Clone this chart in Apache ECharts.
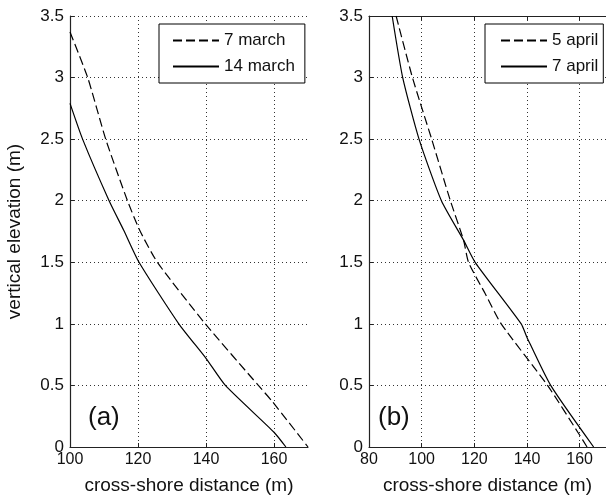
<!DOCTYPE html>
<html>
<head>
<meta charset="utf-8">
<script src="https://cdn.jsdelivr.net/npm/echarts@6/dist/echarts.min.js"></script>
<style>
  html, body { margin: 0; padding: 0; background: #fff; }
  #chart { width: 606px; height: 502px; }
</style>
</head>
<body>
<div id="chart"></div>
<script>
// panel (a): profiles in march
const distMarch7 = [100, 105.2, 110.5, 116.9, 120.5, 125.7, 139.8, 155.4, 159.5, 170];
const elevMarch7 = [3.37, 3.0, 2.5, 2.0, 1.76, 1.5, 1.0, 0.5, 0.37, 0];
const distMarch14 = [100, 103.7, 111.5, 115.8, 120.3, 132.0, 140, 145.7, 160, 163.5];
const elevMarch14 = [2.79, 2.5, 2.0, 1.76, 1.5, 1.0, 0.72, 0.5, 0.12, 0];

// panel (b): profiles in april
const distApril5 = [90.3, 96.5, 103.8, 110.9, 115.9, 117.8, 124, 130.2, 147.8, 159.6, 162.8];
const elevApril5 = [3.5, 3.0, 2.5, 2.0, 1.68, 1.5, 1.25, 1.0, 0.5, 0.11, 0];
const distApril7 = [88.8, 92.8, 99.0, 107.5, 115.9, 120.3, 137.8, 140, 149, 165.3];
const elevApril7 = [3.5, 3.0, 2.5, 2.0, 1.68, 1.5, 1.0, 0.89, 0.5, 0];

const pairs = (xs, ys) => xs.map((x, i) => [x, ys[i]]);

const font = '"Liberation Sans", Arial, sans-serif';
const ink = '#111';
const gridLine = { show: true, lineStyle: { color: '#333', type: [1, 3], width: 1 } };
const axisLine = { show: true, lineStyle: { color: '#222', width: 1.2 } };
const tick = { show: true, inside: true, length: 4, lineStyle: { color: '#222' } };

const xAxisBase = (idx, min) => ({
  type: 'value',
  gridIndex: idx,
  min: min,
  max: 170,
  interval: 20,
  name: 'cross-shore distance (m)',
  nameLocation: 'middle',
  nameGap: 29,
  nameTextStyle: { color: ink, fontSize: 19, fontFamily: font },
  axisLine: axisLine,
  axisTick: tick,
  axisLabel: { color: ink, fontSize: 16, fontFamily: font, margin: 5, showMaxLabel: false },
  splitLine: Object.assign({ showMaxLine: false }, gridLine)
});

const yAxisBase = (idx, withName) => ({
  type: 'value',
  gridIndex: idx,
  min: 0,
  max: 3.5,
  interval: 0.5,
  name: withName ? 'vertical elevation (m)' : '',
  nameLocation: 'middle',
  nameGap: 46,
  nameTextStyle: { color: ink, fontSize: 19, fontFamily: font },
  axisLine: axisLine,
  axisTick: tick,
  axisLabel: { color: ink, fontSize: 17, fontFamily: font, margin: 6 },
  splitLine: gridLine
});

const lineSeries = (name, data, idx, dashed) => ({
  name: name,
  type: 'line',
  xAxisIndex: idx,
  yAxisIndex: idx,
  data: data,
  symbol: 'none',
  smooth: 0.2,
  animation: false,
  lineStyle: { color: '#000', width: 1.2, type: dashed ? [9, 4] : 'solid' },
  itemStyle: { color: '#000' }
});

const legendBase = {
  orient: 'vertical',
  itemWidth: 46,
  itemHeight: 14,
  itemGap: 9,
  backgroundColor: '#fff',
  borderColor: '#000',
  borderWidth: 1,
  borderRadius: 0,
  itemStyle: { opacity: 0 },
  textStyle: { color: ink, fontSize: 17, fontFamily: font }
};

const chart = echarts.init(document.getElementById('chart'));
chart.setOption({
  backgroundColor: '#fff',
  animation: false,
  grid: [
    { left: 70, top: 16, width: 238, height: 431 },
    { left: 369, top: 16, right: -3, height: 431 }
  ],
  xAxis: [
    xAxisBase(0, 100),
    xAxisBase(1, 80),
    {
      type: 'value', gridIndex: 1, position: 'top', min: 80, max: 170, interval: 20,
      axisLine: axisLine, axisTick: tick, axisLabel: { show: false }, splitLine: { show: false }
    }
  ],
  yAxis: [yAxisBase(0, true), yAxisBase(1, false)],
  legend: [
    Object.assign({}, legendBase, {
      data: ['7 march', '14 march'],
      left: 159, top: 24,
      padding: [8, 10, 8, 13]
    }),
    Object.assign({}, legendBase, {
      data: ['5 april', '7 april'],
      left: 485, top: 24,
      padding: [8, 5, 8, 15]
    })
  ],
  graphic: [
    { type: 'text', left: 88, top: 405, style: { text: '(a)', fontSize: 26, fontFamily: font, fill: ink } },
    { type: 'text', left: 378, top: 405, style: { text: '(b)', fontSize: 26, fontFamily: font, fill: ink } }
  ],
  series: [
    lineSeries('7 march', pairs(distMarch7, elevMarch7), 0, true),
    lineSeries('14 march', pairs(distMarch14, elevMarch14), 0, false),
    lineSeries('5 april', pairs(distApril5, elevApril5), 1, true),
    lineSeries('7 april', pairs(distApril7, elevApril7), 1, false)
  ]
});
</script>
</body>
</html>
